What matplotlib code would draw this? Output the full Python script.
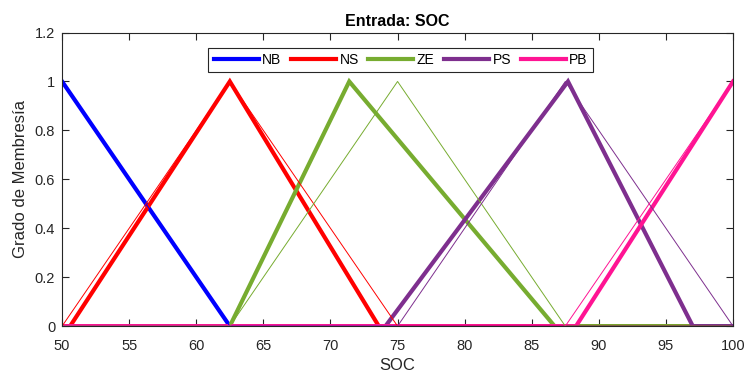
import matplotlib.pyplot as plt

plt.rcParams['font.family'] = ['Liberation Sans', 'DejaVu Sans']

# membership functions (x breakpoints, y values)
labels = ["NB", "NS", "ZE", "PS", "PB"]
colors = ["#0000FF", "#FF0000", "#77AC30", "#7E2F8E", "#FF1493"]

# optimized (thick)
opt_x = [
    [50, 62.5, 100],
    [50, 50.6, 62.5, 73.6, 100],
    [50, 62.5, 71.4, 86.7, 100],
    [50, 74.1, 87.7, 97.0, 100],
    [50, 88.3, 100],
]
opt_y = [
    [1, 0, 0],
    [0, 0, 1, 0, 0],
    [0, 0, 1, 0, 0],
    [0, 0, 1, 0, 0],
    [0, 0, 1],
]

# original (thin)
orig_x = [
    [50, 62.5, 100],
    [50, 62.5, 75, 100],
    [50, 62.5, 75, 87.5, 100],
    [50, 75, 87.5, 100],
    [50, 87.5, 100],
]
orig_y = [
    [1, 0, 0],
    [0, 1, 0, 0],
    [0, 0, 1, 0, 0],
    [0, 0, 1, 0],
    [0, 0, 1],
]

fig, ax = plt.subplots(figsize=(7.48, 3.74), dpi=100)
fig.subplots_adjust(left=0.083, right=0.98, top=0.913, bottom=0.128)

for xs, ys, c, lab in zip(opt_x, opt_y, colors, labels):
    ax.plot(xs, ys, color=c, lw=3, label=lab, solid_joinstyle='miter')
for xs, ys, c in zip(orig_x, orig_y, colors):
    ax.plot(xs, ys, color=c, lw=0.7)

ax.set_xlim(50, 100)
ax.set_ylim(0, 1.2)
ax.set_xticks(range(50, 101, 5))
ax.set_yticks([0, 0.2, 0.4, 0.6, 0.8, 1, 1.2])
ax.set_yticklabels(["0", "0.2", "0.4", "0.6", "0.8", "1", "1.2"])
ax.tick_params(direction='in', top=True, right=True, length=5, width=0.8,
               labelsize=10.5, colors='#262626', labelcolor='#262626')
ax.tick_params(axis='x', pad=9)
ax.tick_params(axis='y', pad=5)
for sp in ax.spines.values():
    sp.set_color('#262626')
    sp.set_linewidth(0.8)

ax.set_xlabel("SOC", fontsize=12, color='#262626', labelpad=4)
ax.set_ylabel("Grado de Membresía", fontsize=12, color='#262626', labelpad=5)
ax.set_title("Entrada: SOC", fontsize=11.5, fontweight='bold', pad=5)

leg = ax.legend(ncol=5, loc='upper left', bbox_to_anchor=(0.218, 0.948),
                fontsize=10, handlelength=3.25, handletextpad=0.25,
                columnspacing=0.68, borderpad=0.38, fancybox=False,
                framealpha=1, edgecolor='#262626', borderaxespad=0)
leg.get_frame().set_linewidth(0.8)

fig.savefig("out.png", dpi=100)
